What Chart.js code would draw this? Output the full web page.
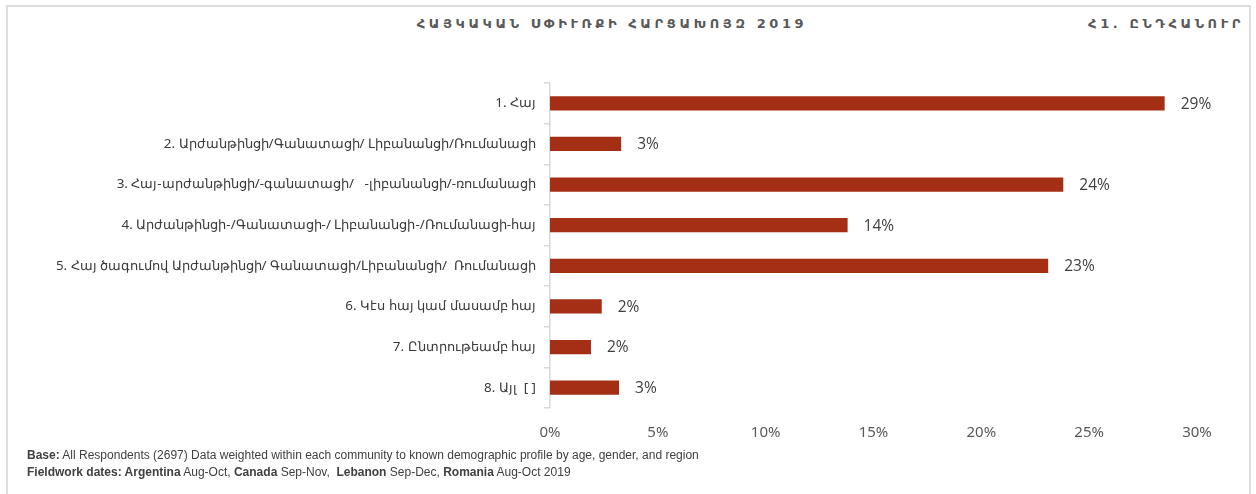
<!DOCTYPE html>
<html lang="hy">
<head>
    <meta charset="UTF-8">
    <title>Հայկական սփիւռքի հարցախոյզ 2019</title>
    <script src="https://cdn.jsdelivr.net/npm/chart.js"></script>
    <style>
        html, body { margin: 0; padding: 0; background: #fff; }
        .frame { position: absolute; left: 6px; top: 5px; width: 1241px; height: 500px; border: 2px solid #dedede; border-bottom: none; }
        .chart-box { position: absolute; left: 0; top: 0; width: 1256px; height: 494px; }
        .title { position: absolute; top: 16px; left: 380px; width: 464px; text-align: center; font: bold 13px "DejaVu Sans", sans-serif; letter-spacing: 3.6px; color: #595959; }
        .section { position: absolute; top: 16px; right: 12px; font: bold 13px "DejaVu Sans", sans-serif; letter-spacing: 3.6px; color: #595959; }
        .footer { position: absolute; left: 27px; top: 447px; font: 12px "Liberation Sans Narrow", "Liberation Sans", sans-serif; color: #404040; line-height: 17px; }
    </style>
</head>
<body>
    <div class="frame"></div>
    <div class="title">ՀԱՅԿԱԿԱՆ ՍՓԻՒՌՔԻ ՀԱՐՑԱԽՈՅԶ 2019</div>
    <div class="section">Հ1. ԸՆԴՀԱՆՈՒՐ</div>
    <div class="chart-box"><canvas id="chart"></canvas></div>
    <div class="footer">
        <div><b>Base:</b> All Respondents (2697) Data weighted within each community to known demographic profile by age, gender, and region</div>
        <div><b>Fieldwork dates: Argentina</b> Aug-Oct, <b>Canada</b> Sep-Nov,&nbsp; <b>Lebanon</b> Sep-Dec, <b>Romania</b> Aug-Oct 2019</div>
    </div>

    <script>
        const categories = [
            '1. Հայ',
            '2. Արժանթինցի/Գանատացի/ Լիբանանցի/Ռումանացի',
            '3. Հայ-արժանթինցի/-գանատացի/   -լիբանանցի/-ռումանացի',
            '4. Արժանթինցի-/Գանատացի-/ Լիբանանցի-/Ռումանացի-հայ',
            '5. Հայ ծագումով Արժանթինցի/ Գանատացի/Լիբանանցի/  Ռումանացի',
            '6. Կէս հայ կամ մասամբ հայ',
            '7. Ընտրութեամբ հայ',
            '8. Այլ  [ ]'
        ];
        const shares = [28.5, 3.3, 23.8, 13.8, 23.1, 2.4, 1.9, 3.2];
        const xTicks = [0, 5, 10, 15, 20, 25, 30];

        // values written just right of each bar
        const barLabels = {
            id: 'barLabels',
            afterDatasetsDraw(chart) {
                const ctx = chart.ctx;
                ctx.save();
                ctx.font = '15.5px "Open Sans", sans-serif';
                ctx.fillStyle = '#404040';
                ctx.textBaseline = 'middle';
                chart.getDatasetMeta(0).data.forEach((bar, i) => {
                    ctx.fillText(Math.round(shares[i]) + '%', bar.x + 16, bar.y + 1);
                });
                ctx.restore();
            }
        };

        new Chart(document.getElementById('chart'), {
            type: 'bar',
            data: {
                labels: categories,
                datasets: [{
                    data: shares,
                    backgroundColor: '#a52f14',
                    barPercentage: 0.35,
                    categoryPercentage: 1
                }]
            },
            options: {
                indexAxis: 'y',
                responsive: true,
                maintainAspectRatio: false,
                animation: false,
                layout: { padding: { top: 83, right: 59, bottom: 0, left: 0 } },
                plugins: {
                    legend: { display: false },
                    tooltip: { enabled: false }
                },
                scales: {
                    x: {
                        min: 0,
                        max: 30,
                        afterBuildTicks: s => { s.ticks = xTicks.map(v => ({ value: v })); },
                        afterFit: s => { s.height = 86; },
                        grid: { display: false, drawTicks: false },
                        border: { display: false },
                        ticks: {
                            padding: 16,
                            color: '#595959',
                            font: { family: '"Noto Sans", sans-serif', size: 15 },
                            callback: v => v + '%'
                        }
                    },
                    y: {
                        afterFit: s => { s.width = 550; },
                        grid: { drawOnChartArea: false, color: '#d9d9d9', tickLength: 6, lineWidth: 1.5 },
                        border: { color: '#d9d9d9', width: 1.5 },
                        ticks: {
                            padding: 8,
                            color: '#3a3a3a',
                            font: { family: '"Noto Sans", sans-serif', size: 13.4 }
                        }
                    }
                }
            },
            plugins: [barLabels]
        });
    </script>
</body>
</html>
